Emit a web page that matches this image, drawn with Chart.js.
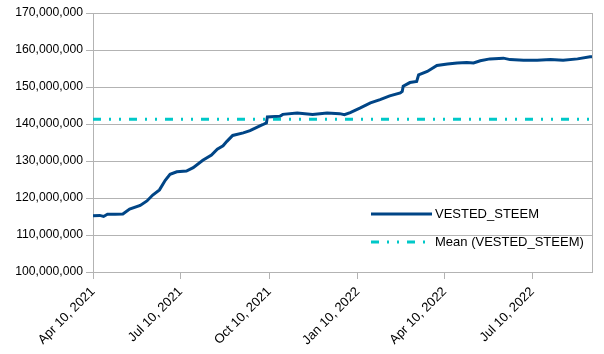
<!DOCTYPE html>
<html>
<head>
<meta charset="utf-8">
<script src="https://cdn.jsdelivr.net/npm/chart.js@4"></script>
<style>
  html, body { margin: 0; padding: 0; background: #fff; }
  #wrap { width: 604px; height: 354px; }
</style>
</head>
<body>
<div id="wrap"><canvas id="chart" width="604" height="354"></canvas></div>
<script>
// ================================
// DATA (values in millions)
// ================================

let seriesName = "VESTED_STEEM";
let meanName = "Mean (VESTED_STEEM)";

let sampleDates = [
  "2021-04-10", "2021-04-17", "2021-04-21", "2021-04-25", "2021-05-03", "2021-05-11",
  "2021-05-18", "2021-05-29", "2021-06-05", "2021-06-11", "2021-06-18", "2021-06-24",
  "2021-06-29", "2021-07-06", "2021-07-16", "2021-07-23", "2021-08-02", "2021-08-11",
  "2021-08-17", "2021-08-23", "2021-08-27", "2021-09-02", "2021-09-13", "2021-09-20",
  "2021-09-27", "2021-10-03", "2021-10-07", "2021-10-08", "2021-10-21", "2021-10-24",
  "2021-11-08", "2021-11-24", "2021-12-09", "2021-12-22", "2021-12-27", "2022-01-02",
  "2022-01-12", "2022-01-23", "2022-02-02", "2022-02-12", "2022-02-23", "2022-02-25",
  "2022-02-26", "2022-03-05", "2022-03-12", "2022-03-14", "2022-03-23", "2022-04-02",
  "2022-04-13", "2022-04-23", "2022-05-03", "2022-05-10", "2022-05-17", "2022-05-27",
  "2022-06-10", "2022-06-17", "2022-07-01", "2022-07-15", "2022-07-29", "2022-08-11",
  "2022-08-26", "2022-09-08", "2022-09-10"
];

let vestedSteem = [
  115.2, 115.3, 115.0, 115.6, 115.6, 115.7,
  117.0, 118.0, 119.2, 120.8, 122.2, 124.8,
  126.4, 127.1, 127.3, 128.2, 130.2, 131.6,
  133.2, 134.1, 135.3, 136.9, 137.6, 138.2,
  139.1, 139.8, 140.3, 141.9, 142.1, 142.6,
  143.0, 142.6, 143.0, 142.8, 142.5, 143.1,
  144.3, 145.7, 146.6, 147.6, 148.4, 148.8,
  150.2, 151.2, 151.5, 153.3, 154.2, 155.8,
  156.2, 156.5, 156.6, 156.5, 157.1, 157.6,
  157.8, 157.4, 157.2, 157.2, 157.4, 157.2,
  157.6, 158.2, 158.2
];

let meanValue = 141.3;

let tickDates = ["2021-04-10", "2021-07-10", "2021-10-10", "2022-01-10", "2022-04-10", "2022-07-10"];
let tickLabels = ["Apr 10, 2021", "Jul 10, 2021", "Oct 10, 2021", "Jan 10, 2022", "Apr 10, 2022", "Jul 10, 2022"];

// ================================
// HELPERS
// ================================

const startTime = Date.parse(sampleDates[0]);
function dayOf(s) {
  return (Date.parse(s) - startTime) / 86400000;
}

let lastDay = dayOf(sampleDates[sampleDates.length - 1]);
let tickDays = tickDates.map(dayOf);

let seriesPoints = sampleDates.map((d, i) => ({ x: dayOf(d), y: vestedSteem[i] * 1e6 }));
let meanPoints = [{ x: 0, y: meanValue * 1e6 }, { x: lastDay, y: meanValue * 1e6 }];

const FONT = "'Liberation Sans', Arial, sans-serif";
const GRID = "#b3b3b3";
const MEAN_DASH = [8, 8, 2, 8, 2, 8];

// legend drawn inside the plot, bottom right, no box
const insideLegend = {
  id: "insideLegend",
  afterDraw(chart) {
    let c = chart.ctx;
    let area = chart.chartArea;
    c.save();
    // right border of plot
    c.strokeStyle = GRID;
    c.lineWidth = 1;
    c.beginPath();
    c.moveTo(area.right + 0.5, area.top);
    c.lineTo(area.right + 0.5, area.bottom);
    c.stroke();

    let rows = [
      { text: seriesName, color: "#004586", dash: [], y: 214 },
      { text: meanName, color: "#00c8c8", dash: MEAN_DASH, y: 242 }
    ];
    c.font = "13px " + FONT;
    c.textBaseline = "middle";
    rows.forEach(r => {
      c.strokeStyle = r.color;
      c.lineWidth = 3;
      c.setLineDash(r.dash);
      c.lineDashOffset = 0;
      c.beginPath();
      c.moveTo(371, r.y);
      c.lineTo(432, r.y);
      c.stroke();
      c.setLineDash([]);
      c.fillStyle = "#000";
      c.fillText(r.text, 435, r.y);
    });
    c.restore();
  }
};

// ================================
// CHART
// ================================

let ctx = document.getElementById("chart").getContext("2d");

let chart = new Chart(ctx, {
  type: "line",
  data: {
    datasets: [
      {
        label: meanName,
        data: meanPoints,
        borderColor: "#00c8c8",
        borderWidth: 3,
        borderDash: MEAN_DASH,
        pointRadius: 0,
        tension: 0
      },
      {
        label: seriesName,
        data: seriesPoints,
        borderColor: "#004586",
        borderWidth: 3,
        pointRadius: 0,
        tension: 0
      }
    ]
  },
  options: {
    responsive: false,
    animation: false,
    layout: { padding: { top: 13, right: 12, left: 0, bottom: 0 } },
    plugins: {
      legend: { display: false },
      tooltip: { enabled: false }
    },
    scales: {
      x: {
        type: "linear",
        min: 0,
        max: lastDay,
        afterBuildTicks: scale => {
          scale.ticks = tickDays.map(v => ({ value: v }));
        },
        afterFit: scale => { scale.height = 82; },
        ticks: {
          autoSkip: false,
          minRotation: 45,
          maxRotation: 45,
          color: "#000",
          font: { family: FONT, size: 13 },
          padding: 5,
          callback: (v, i) => tickLabels[i]
        },
        grid: {
          drawOnChartArea: false,
          drawTicks: true,
          tickLength: 7,
          color: GRID
        },
        border: { color: GRID }
      },
      y: {
        min: 100e6,
        max: 170e6,
        afterFit: scale => { scale.width = 93; },
        ticks: {
          stepSize: 10e6,
          color: "#000",
          font: { family: FONT, size: 12.2 },
          padding: 3,
          callback: v => v.toLocaleString("en-US")
        },
        grid: {
          color: GRID,
          tickLength: 7
        },
        border: { color: GRID }
      }
    }
  },
  plugins: [insideLegend]
});
</script>
</body>
</html>
